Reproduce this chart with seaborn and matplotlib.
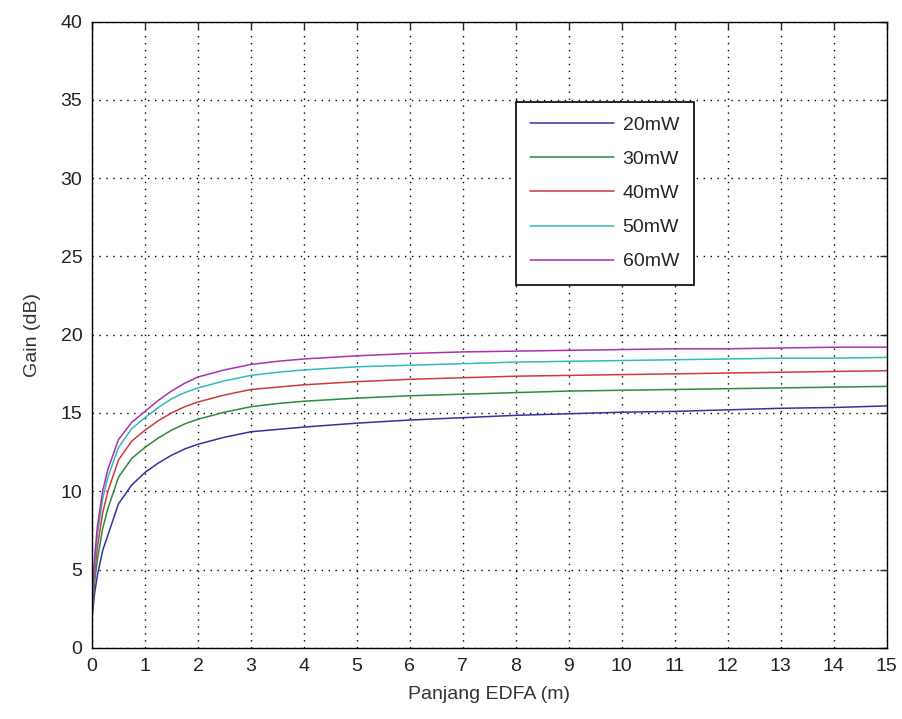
import numpy as np
import pandas as pd
import seaborn as sns
import matplotlib.pyplot as plt

# Data
panjang = [0, 0.05, 0.1, 0.2, 0.3, 0.5, 0.75, 1, 1.25, 1.5, 1.75, 2, 2.5, 3, 3.5,
           4, 5, 6, 7, 8, 9, 10, 11, 12, 13, 14, 15]
gain_20 = [1.9, 3.5, 4.6, 6.2, 7.2, 9.2, 10.4, 11.2, 11.8, 12.3, 12.7, 13.0, 13.45, 13.8, 13.95,
           14.1, 14.35, 14.55, 14.7, 14.85, 14.95, 15.05, 15.1, 15.2, 15.3, 15.35, 15.45]
gain_30 = [2.2, 4.2, 5.6, 7.6, 8.9, 10.9, 12.1, 12.8, 13.4, 13.9, 14.3, 14.6, 15.05, 15.4, 15.6,
           15.75, 15.95, 16.1, 16.2, 16.3, 16.4, 16.45, 16.5, 16.55, 16.6, 16.65, 16.7]
gain_40 = [2.6, 4.8, 6.4, 8.6, 10.0, 12.0, 13.2, 13.9, 14.5, 15.0, 15.4, 15.7, 16.15, 16.5, 16.65,
           16.8, 17.0, 17.15, 17.25, 17.35, 17.4, 17.45, 17.5, 17.55, 17.6, 17.65, 17.7]
gain_50 = [3.0, 5.3, 7.2, 9.5, 10.9, 12.8, 14.0, 14.7, 15.35, 15.9, 16.3, 16.6, 17.05, 17.4, 17.6,
           17.75, 17.95, 18.05, 18.15, 18.25, 18.3, 18.35, 18.4, 18.45, 18.5, 18.5, 18.55]
gain_60 = [3.3, 5.8, 7.7, 10.0, 11.4, 13.3, 14.4, 15.1, 15.8, 16.4, 16.9, 17.3, 17.75, 18.1, 18.3,
           18.45, 18.65, 18.8, 18.9, 18.95, 19.0, 19.05, 19.1, 19.1, 19.15, 19.2, 19.2]
labels = ['20mW', '30mW', '40mW', '50mW', '60mW']
colors = ['#33339e', '#2f8a3a', '#cc3b3b', '#35b8b8', '#a833a8']

series = [gain_20, gain_30, gain_40, gain_50, gain_60]
df = pd.concat([pd.DataFrame({'x': panjang, 'gain': g, 'daya': lab})
                for g, lab in zip(series, labels)], ignore_index=True)

sns.set_style('white')
plt.rcParams['font.family'] = ['Liberation Sans', 'DejaVu Sans']

fig = plt.figure(figsize=(9.02, 7.19), dpi=100)
ax = fig.add_axes([0.102, 0.099, 0.881, 0.871])

sns.lineplot(data=df, x='x', y='gain', hue='daya', palette=colors,
             linewidth=1.1, ax=ax)

ax.set_xlim(0, 15)
ax.set_ylim(0, 40)
ax.set_xticks(range(0, 16))
ax.set_yticks(range(0, 41, 5))
ax.set_xlabel('Panjang EDFA (m)', fontsize=14, color='#333333', labelpad=8)
ax.set_ylabel('Gain (dB)', fontsize=14, color='#333333', labelpad=14)
ax.tick_params(direction='in', length=5, width=1, top=True, right=True,
               labelsize=14, labelcolor='#222222', pad=7)
ax.grid(True, linestyle=(0, (1, 4)), color='black', linewidth=1)
for s in ax.spines.values():
    s.set_color('black')
    s.set_linewidth(1)

leg = ax.legend(loc='upper left', bbox_to_anchor=(0.533, 0.872),
                fontsize=14, frameon=True, fancybox=False, handlelength=4.3,
                handletextpad=0.45, labelspacing=0.85, borderpad=0.75,
                borderaxespad=0)
leg.get_frame().set_edgecolor('black')
leg.get_frame().set_linewidth(1.2)
leg.get_frame().set_alpha(1)

fig.savefig('out.png', dpi=100)
